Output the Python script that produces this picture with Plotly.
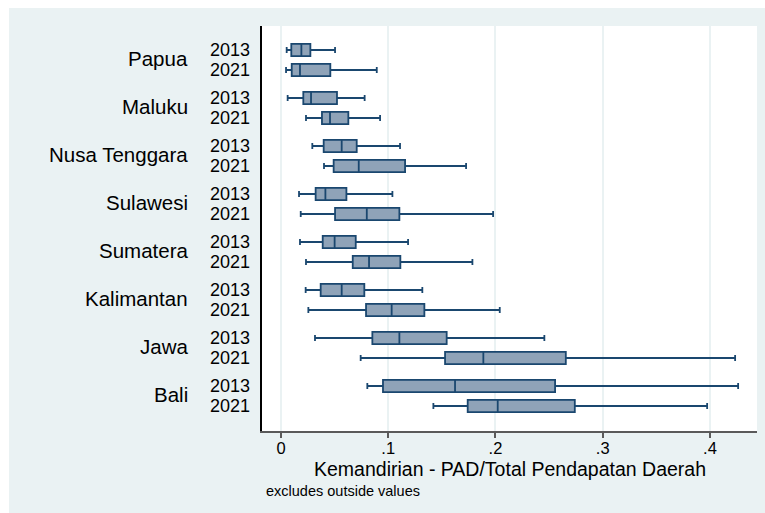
import plotly.graph_objects as go

# Regional fiscal independence (PAD / total regional revenue), box summaries by year
regions = ["Papua", "Maluku", "Nusa Tenggara", "Sulawesi", "Sumatera",
           "Kalimantan", "Jawa", "Bali"]
years = ["2013", "2021"]

low_2013 = [0.0053, 0.0062, 0.0292, 0.0168, 0.0177, 0.0230, 0.0317, 0.0805]
q1_2013 = [0.0096, 0.0208, 0.0398, 0.0323, 0.0389, 0.0370, 0.0852, 0.0951]
med_2013 = [0.0190, 0.0280, 0.0566, 0.0414, 0.0500, 0.0566, 0.1104, 0.1623]
q3_2013 = [0.0274, 0.0522, 0.0706, 0.0610, 0.0697, 0.0777, 0.1545, 0.2556]
high_2013 = [0.0504, 0.0780, 0.1110, 0.1039, 0.1185, 0.1318, 0.2456, 0.4263]

low_2021 = [0.0047, 0.0233, 0.0401, 0.0184, 0.0233, 0.0255, 0.0743, 0.1421]
q1_2021 = [0.0100, 0.0382, 0.0491, 0.0504, 0.0669, 0.0793, 0.1530, 0.1741]
med_2021 = [0.0177, 0.0457, 0.0725, 0.0800, 0.0821, 0.1032, 0.1887, 0.2021]
q3_2021 = [0.0460, 0.0628, 0.1157, 0.1104, 0.1113, 0.1337, 0.2656, 0.2740]
high_2021 = [0.0893, 0.0924, 0.1726, 0.1978, 0.1785, 0.2040, 0.4235, 0.3974]

x_ticks = [0, 0.1, 0.2, 0.3, 0.4]
x_tick_labels = ["0", ".1", ".2", ".3", ".4"]

FILL = "rgb(143,163,184)"
EDGE = "rgb(26,71,111)"
BG = "rgb(234,242,243)"
FONT = "Liberation Sans, Arial, sans-serif"

# row positions: two rows per region, extra gap between regions
GROUP_STEP = 2.4
pos_2013 = [i * GROUP_STEP for i in range(len(regions))]
pos_2021 = [i * GROUP_STEP + 1 for i in range(len(regions))]

fig = go.Figure()
for pos, lo, a, m, b, hi in [
    (pos_2013, low_2013, q1_2013, med_2013, q3_2013, high_2013),
    (pos_2021, low_2021, q1_2021, med_2021, q3_2021, high_2021),
]:
    fig.add_trace(go.Box(
        orientation="h",
        y=pos,
        q1=a, median=m, q3=b,
        lowerfence=lo, upperfence=hi,
        width=0.62,
        whiskerwidth=0.5,
        fillcolor=FILL,
        line=dict(color=EDGE, width=1.8),
        boxpoints=False,
        showlegend=False,
        hoverinfo="skip",
    ))

annotations = []
for i, name in enumerate(regions):
    annotations.append(dict(
        text=name, xref="paper", yref="y",
        x=-0.1455, y=pos_2013[i] + 0.4,
        xanchor="right", yanchor="middle", showarrow=False,
        font=dict(family=FONT, size=20.5, color="black"),
    ))
    for yr, p in zip(years, (pos_2013[i], pos_2021[i])):
        annotations.append(dict(
            text=yr, xref="paper", yref="y",
            x=-0.0202, y=p,
            xanchor="right", yanchor="middle", showarrow=False,
            font=dict(family=FONT, size=18, color="black"),
        ))

annotations.append(dict(
    text="Kemandirian - PAD/Total Pendapatan Daerah",
    xref="paper", yref="paper", x=0.501, y=-0.094,
    xanchor="center", yanchor="middle", showarrow=False,
    font=dict(family=FONT, size=19.5, color="black"),
))
annotations.append(dict(
    text="excludes outside values",
    xref="paper", yref="paper", x=0.004, y=-0.1475,
    xanchor="left", yanchor="middle", showarrow=False,
    font=dict(family=FONT, size=14.5, color="black"),
))

fig.update_layout(
    width=765, height=513,
    margin=dict(l=262, r=8, t=26, b=82),
    paper_bgcolor=BG,
    plot_bgcolor="white",
    font=dict(family=FONT, color="black"),
    annotations=annotations,
    shapes=[
        # thin white frame along top and left edges of the page
        dict(type="rect", xref="paper", yref="paper",
             x0=-0.6, x1=1.1, y0=1.0444, y1=1.3,
             fillcolor="white", line=dict(width=0), layer="below"),
        dict(type="rect", xref="paper", yref="paper",
             x0=-0.6, x1=-0.5111, y0=-0.4, y1=1.3,
             fillcolor="white", line=dict(width=0), layer="below"),
    ],
    xaxis=dict(
        range=[-0.01772, 0.4439],
        tickvals=x_ticks, ticktext=x_tick_labels,
        ticks="outside", ticklen=5, tickwidth=1.5, tickcolor="rgb(90,90,90)",
        tickfont=dict(family=FONT, size=16.5, color="black"),
        ticklabelstandoff=-4,
        showgrid=True, gridcolor=BG, gridwidth=1.5,
        zeroline=False,
        showline=True, linecolor="rgb(90,90,90)", linewidth=1.5,
        fixedrange=True,
    ),
    yaxis=dict(
        range=[19.05, -1.2],
        showticklabels=False, ticks="",
        showgrid=False, zeroline=False,
        showline=True, linecolor="black", linewidth=1.5,
        fixedrange=True,
    ),
)

fig.write_html("out.html")
